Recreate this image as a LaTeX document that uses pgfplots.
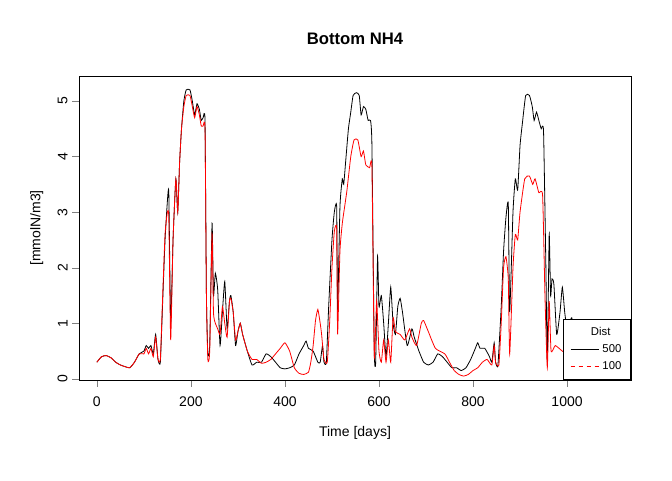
\documentclass[border=0pt]{standalone}
\usepackage{pgfplots}
\pgfplotsset{compat=1.18}
\usepackage{fontspec}
\setmainfont{Liberation Sans}
\begin{document}
\begin{tikzpicture}
\useasboundingbox (0,0) rectangle (504pt,360pt);
\begin{axis}[at={(59.25pt,75pt)},anchor=south west,scale only axis,width=414pt,height=228pt,
xmin=-38,xmax=1136,ymin=-0.02,ymax=5.45,
xtick={0,200,400,600,800,1000},ytick={0,1,2,3,4,5},
/pgf/number format/1000 sep={},
tick align=outside,tick pos=left,major tick length=5pt,
/pgf/number format/assume math mode=true,
ticklabel style={font=\fontsize{10.5}{12}\selectfont},
yticklabel style={rotate=90,anchor=south},
xticklabel style={yshift=-4pt},
xlabel={Time [days]},ylabel={[mmolN/m3]},
xlabel style={font=\fontsize{10.5}{12}\selectfont,yshift=-8pt},
ylabel style={font=\fontsize{10.5}{12}\selectfont,yshift=4pt},
title={\textbf{Bottom NH4}},title style={font=\fontsize{12.5}{14}\selectfont,yshift=14pt},
legend style={at={(1,0)},anchor=south east,font=\fontsize{8.5}{10}\selectfont,draw=black,rounded corners=0pt,inner xsep=5pt,inner ysep=4pt,row sep=1.5pt},
legend image code/.code={\draw[#1] (0pt,0pt) -- (0.75cm,0pt);},
legend cell align={right},
]
\addlegendimage{empty legend}\addlegendentry{\hspace{-34pt}Dist\hspace{10pt}}
\addlegendimage{black,line width=1pt}\addlegendentry{500}
\addlegendimage{red,line width=1pt,dashed}\addlegendentry{100}
\addplot[black,forget plot,line width=0.6pt,smooth,tension=0.3] coordinates {
(0,0.3)(10,0.4)(20,0.42)(30,0.38)(40,0.3)(50,0.25)(60,0.22)(70,0.2)(80,0.3)(90,0.45)(100,0.5)(105,0.6)(110,0.55)(115,0.6)(120,0.45)(125,0.8)(130,0.35)(135,0.3)(140,1.4)(145,2.5)(150,3.2)(153,3.35)(157,1.0)(162,2.5)(168,3.6)(172,3.0)(176,3.9)(180,4.5)(185,5.0)(190,5.2)(198,5.2)(203,5.0)(208,4.75)(213,4.95)(218,4.85)(222,4.65)(226,4.7)(230,4.65)(233,1.5)(236,0.45)(240,0.6)(245,2.8)(248,1.5)(252,1.9)(257,1.6)(262,0.6)(267,1.2)(272,1.75)(277,0.9)(282,1.4)(285,1.5)(290,1.2)(295,0.6)(300,0.85)(305,1.0)(310,0.8)(320,0.5)(330,0.25)(340,0.3)(350,0.3)(360,0.45)(370,0.4)(380,0.3)(390,0.2)(400,0.18)(410,0.2)(420,0.25)(430,0.45)(440,0.6)(445,0.68)(450,0.55)(460,0.5)(470,0.3)(475,0.3)(480,0.6)(483,0.3)(488,0.3)(493,1.3)(500,2.5)(505,3.0)(510,3.1)(512,1.2)(517,3.1)(522,3.6)(525,3.5)(530,4.0)(535,4.5)(540,4.8)(545,5.1)(552,5.15)(558,5.1)(562,4.75)(567,4.9)(572,4.85)(577,4.65)(582,4.65)(585,4.2)(590,0.5)(593,0.3)(597,2.2)(600,1.3)(605,1.5)(610,1.0)(615,0.4)(620,1.0)(625,1.65)(630,1.0)(635,0.8)(640,1.3)(645,1.45)(650,1.2)(660,0.6)(670,0.9)(675,0.75)(685,0.5)(695,0.3)(705,0.25)(715,0.3)(725,0.45)(735,0.4)(745,0.3)(755,0.2)(765,0.2)(775,0.15)(785,0.2)(795,0.35)(805,0.55)(810,0.65)(815,0.55)(825,0.55)(835,0.4)(840,0.3)(845,0.65)(848,0.3)(853,0.25)(860,1.3)(865,2.3)(870,2.9)(875,3.15)(878,1.2)(885,3.0)(890,3.6)(895,3.4)(900,4.2)(905,4.6)(912,5.1)(920,5.1)(926,4.9)(930,4.65)(935,4.8)(940,4.65)(945,4.5)(950,4.45)(955,2.0)(958,0.3)(962,2.6)(965,1.5)(968,1.8)(972,1.7)(978,0.8)(985,1.2)(990,1.65)(995,1.2)(1000,0.9)(1005,1.0)(1010,1.1)(1015,0.8)(1025,0.5)(1040,0.3)};
\addplot[red,forget plot,line width=0.6pt,smooth,tension=0.3] coordinates {
(0,0.3)(10,0.4)(20,0.42)(30,0.38)(40,0.3)(50,0.25)(60,0.22)(70,0.2)(80,0.3)(90,0.45)(100,0.45)(105,0.55)(110,0.45)(115,0.55)(120,0.4)(125,0.75)(130,0.35)(135,0.35)(140,1.5)(145,2.6)(150,3.0)(153,2.9)(157,0.7)(162,2.5)(168,3.6)(172,3.0)(176,3.9)(180,4.5)(185,4.9)(190,5.1)(198,5.1)(203,4.9)(208,4.7)(213,4.9)(218,4.75)(222,4.55)(226,4.55)(230,4.5)(233,1.5)(236,0.35)(240,0.5)(245,2.6)(248,1.2)(252,1.0)(257,0.9)(262,0.8)(267,1.3)(272,1.0)(277,0.75)(282,1.4)(285,1.45)(290,1.2)(295,0.7)(300,0.85)(305,1.0)(310,0.8)(320,0.5)(330,0.35)(340,0.35)(350,0.28)(360,0.3)(370,0.35)(380,0.45)(390,0.55)(400,0.65)(410,0.5)(420,0.2)(430,0.1)(440,0.08)(450,0.12)(455,0.3)(460,0.6)(465,1.05)(470,1.25)(475,1.0)(478,0.8)(483,0.35)(490,0.3)(495,1.0)(500,2.0)(505,2.65)(510,2.7)(512,0.8)(517,2.3)(522,2.8)(527,3.1)(532,3.4)(540,4.0)(547,4.3)(555,4.3)(562,4.0)(567,4.1)(572,3.85)(580,3.8)(585,3.8)(590,0.4)(595,1.4)(600,0.5)(605,0.3)(610,0.7)(615,0.3)(620,0.7)(625,0.3)(630,1.1)(635,0.85)(645,0.8)(655,0.7)(665,0.9)(670,0.75)(680,0.6)(690,1.0)(695,1.05)(705,0.85)(720,0.55)(740,0.45)(750,0.3)(760,0.15)(770,0.08)(780,0.05)(790,0.08)(800,0.15)(810,0.2)(820,0.3)(830,0.35)(840,0.25)(845,0.6)(848,0.3)(855,0.25)(860,1.0)(865,2.0)(870,2.2)(875,1.8)(878,0.45)(885,2.0)(890,2.6)(895,2.5)(900,3.0)(910,3.6)(920,3.65)(927,3.5)(932,3.6)(940,3.35)(948,3.3)(953,1.5)(958,0.2)(962,1.4)(966,0.5)(975,0.6)(990,0.5)(1010,0.4)(1040,0.3)};
\end{axis}
\end{tikzpicture}
\end{document}
